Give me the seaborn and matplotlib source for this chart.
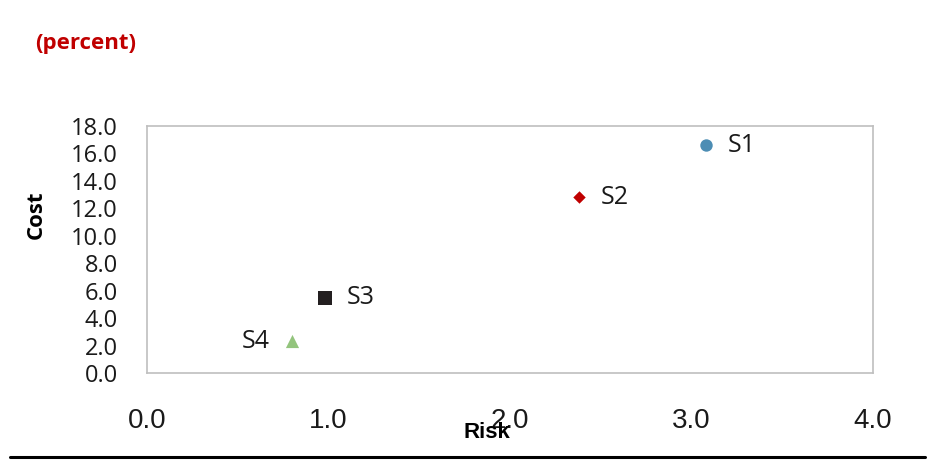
import matplotlib
matplotlib.use("Agg")
import matplotlib.pyplot as plt
from matplotlib import font_manager
from matplotlib.lines import Line2D
import seaborn as sns
import pandas as pd

# Scenario data
scenarios = ["S1", "S2", "S3", "S4"]
risk = [3.08, 2.38, 0.98, 0.80]
cost = [16.6, 12.8, 5.5, 2.3]
x_ticks = [0.0, 1.0, 2.0, 3.0, 4.0]
y_ticks = [0, 2, 4, 6, 8, 10, 12, 14, 16, 18]

colors = {"S1": "#4C8DB4", "S2": "#C00000", "S3": "#231F20", "S4": "#93C47D"}
markers = {"S1": "o", "S2": "D", "S3": "s", "S4": "^"}
sizes = {"S1": 80, "S2": 40, "S3": 90, "S4": 90}
label_side = {"S1": "right", "S2": "right", "S3": "right", "S4": "left"}

df = pd.DataFrame({"scenario": scenarios, "risk": risk, "cost": cost})

sns.set_theme(style="white")


def pick_family(*names):
    for n in names:
        try:
            font_manager.findfont(font_manager.FontProperties(family=n),
                                  fallback_to_default=False)
            return n
        except Exception:
            continue
    return "DejaVu Sans"


main_font = pick_family("Open Sans", "Noto Sans", "DejaVu Sans")
axis_font = pick_family("Liberation Sans", "DejaVu Sans")
plt.rcParams["font.family"] = [main_font, "DejaVu Sans"]

fig = plt.figure(figsize=(9.29, 4.74), dpi=100)
ax = fig.add_axes([0.1582, 0.2131, 0.7815, 0.5211])

for s in scenarios:
    sub = df[df["scenario"] == s]
    sns.scatterplot(data=sub, x="risk", y="cost", marker=markers[s],
                    color=colors[s], s=sizes[s], linewidth=0, ax=ax,
                    legend=False, zorder=3)

for s, xv, yv in zip(scenarios, risk, cost):
    if label_side[s] == "right":
        ax.annotate(s, (xv, yv), xytext=(16, 0), textcoords="offset points",
                    ha="left", va="center", fontsize=18, color="#1a1a1a")
    else:
        ax.annotate(s, (xv, yv), xytext=(-16, 0), textcoords="offset points",
                    ha="right", va="center", fontsize=18, color="#1a1a1a")

ax.set_xlim(0, 4)
ax.set_ylim(0, 18)
ax.set_xticks(x_ticks)
ax.set_yticks(y_ticks)
ax.set_xticklabels([f"{v:.1f}" for v in x_ticks], fontsize=20,
                   family=[axis_font, "DejaVu Sans"], color="#1a1a1a")
ax.set_yticklabels([f"{v:.1f}" for v in y_ticks], fontsize=17, color="#1a1a1a")

ax.tick_params(axis="x", direction="in", length=7, width=1, color="#BFBFBF", pad=25)
ax.tick_params(axis="y", direction="in", length=7, width=1, color="#BFBFBF", pad=21)
for sp in ax.spines.values():
    sp.set_visible(True)
    sp.set_color("#BFBFBF")
    sp.set_linewidth(1.2)
ax.grid(False)

ax.set_xlabel("")
ax.set_ylabel("")
fig.text(487 / 929, 1 - 433 / 474, "Risk", ha="center", va="center",
         fontsize=16, fontweight="bold", family=[axis_font, "DejaVu Sans"],
         color="black")
fig.text(36 / 929, 1 - 215 / 474, "Cost", ha="center", va="center",
         rotation=90, fontsize=16, fontweight="bold", color="black")
fig.text(35 / 929, 1 - 44 / 474, "(percent)", ha="left", va="center",
         fontsize=16, fontweight="bold", color="#C00000")

fig.add_artist(Line2D([10 / 929, 925 / 929], [1 - 457 / 474, 1 - 457 / 474],
                      transform=fig.transFigure, color="black", linewidth=2.2))

fig.savefig("out.png", dpi=100)
